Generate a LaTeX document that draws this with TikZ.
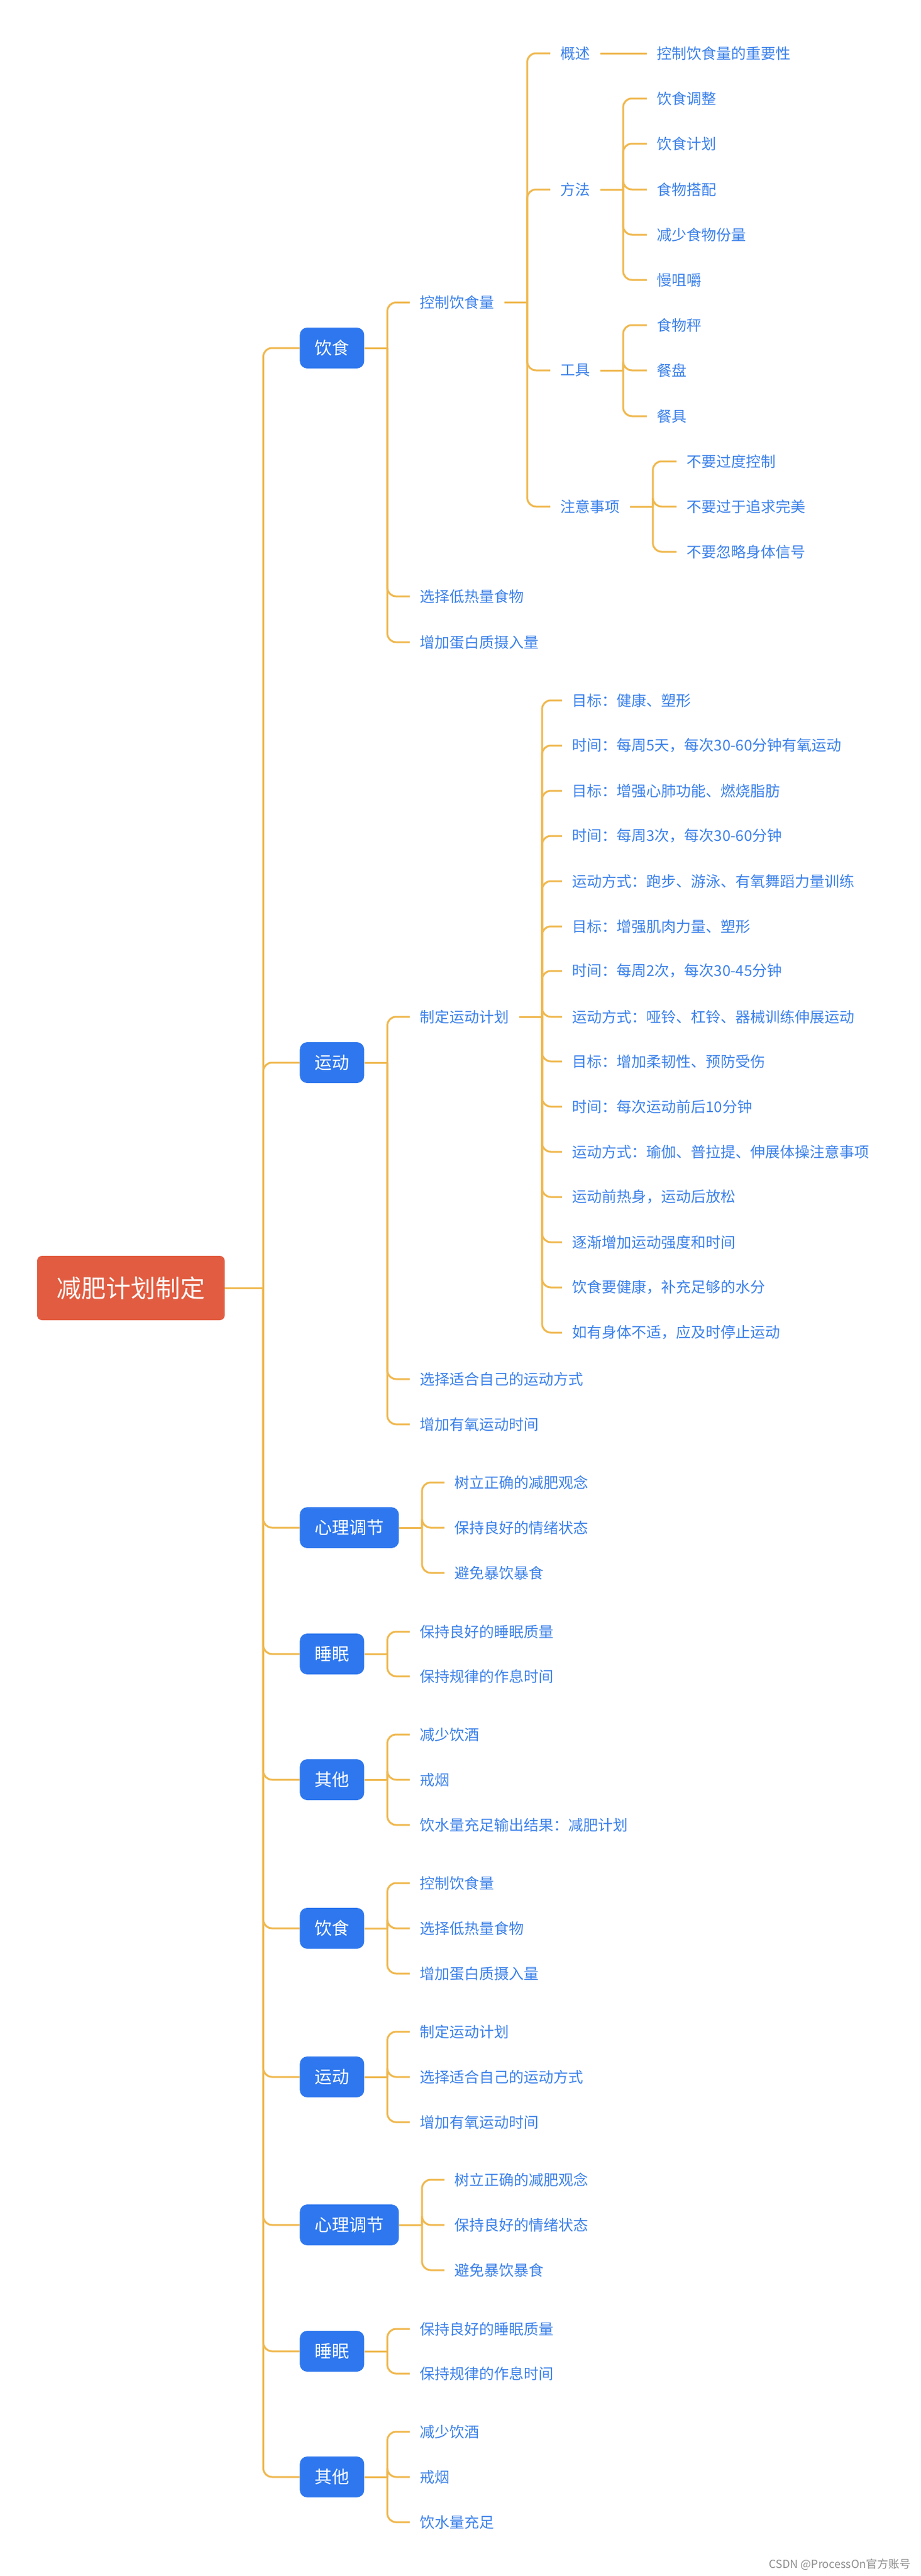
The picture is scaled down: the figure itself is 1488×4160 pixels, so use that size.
\documentclass[tikz,border=0pt]{standalone}
\usepackage{fontspec}
\setmainfont{Noto Sans CJK SC}
\usepackage{xcolor}
\usetikzlibrary{positioning,calc}

\definecolor{rootred}{HTML}{E15C40}
\definecolor{boxblue}{HTML}{2E77EE}
\definecolor{txtblue}{HTML}{3A80EA}
\definecolor{linkorange}{HTML}{EFB84F}

% stub from a parent, then one rounded elbow per child
\newcommand{\branch}[3][37]{%
	\draw[link] (#2.east) -- ++(#1,0) coordinate (#2-j);
	\foreach \c in {#3} {\draw[link] (#2-j) |- (\c.west);}
}

\begin{document}
\begin{tikzpicture}[x=0.5pt, y=-0.5pt,
				root/.style={
					fill=rootred, text=white!95!rootred,
					rounded corners=4pt, inner sep=0pt,
					minimum width=151.5pt, minimum height=52pt,
					font=\fontsize{20pt}{24pt}\selectfont,
				},
				topic/.style={
					fill=boxblue, text=white, anchor=west,
					rounded corners=6pt, inner xsep=12pt, inner ysep=0pt,
					minimum height=33pt,
					font=\fontsize{14pt}{17pt}\selectfont,
				},
				leaf/.style={
					text=txtblue, anchor=west,
					inner xsep=8pt, inner ysep=2pt,
					font=\fontsize{12pt}{14pt}\selectfont,
				},
				link/.style={
					draw=linkorange, line width=1.5pt, rounded corners=7pt,
				},
				wmark/.style={
					text=black!45, anchor=east, inner sep=0pt,
					font=\fontsize{9pt}{11pt}\selectfont,
				}
				]
				\useasboundingbox (0,0) rectangle (1488,4160);
				
				\node[root] (plan) at (211.5,2080) {减肥计划制定};
				
				% 饮食
				\node[topic] (t1) at (484,562) {饮食};
				\node[leaf] (t1a) at (662,488.5) {控制饮食量};
				\node[leaf] (t1b) at (662,963) {选择低热量食物};
				\node[leaf] (t1c) at (662,1037) {增加蛋白质摄入量};
				
				\node[leaf] (g1) at (889,86) {概述};
				\node[leaf] (g2) at (889,306) {方法};
				\node[leaf] (g3) at (889,598) {工具};
				\node[leaf] (g4) at (889,818) {注意事项};
				
				\node[leaf] (g1a) at (1045,86) {控制饮食量的重要性};
				\node[leaf] (g2a) at (1045,159) {饮食调整};
				\node[leaf] (g2b) at (1045,232) {饮食计划};
				\node[leaf] (g2c) at (1045,306) {食物搭配};
				\node[leaf] (g2d) at (1045,379) {减少食物份量};
				\node[leaf] (g2e) at (1045,452) {慢咀嚼};
				\node[leaf] (g3a) at (1045,525) {食物秤};
				\node[leaf] (g3b) at (1045,598) {餐盘};
				\node[leaf] (g3c) at (1045,672) {餐具};
				\node[leaf] (g4a) at (1093,745) {不要过度控制};
				\node[leaf] (g4b) at (1093,818) {不要过于追求完美};
				\node[leaf] (g4c) at (1093,891) {不要忽略身体信号};
				
				% 运动
				\node[topic] (t2) at (484,1716) {运动};
				\node[leaf] (t2a) at (662,1642) {制定运动计划};
				\node[leaf] (t2b) at (662,2227) {选择适合自己的运动方式};
				\node[leaf] (t2c) at (662,2300) {增加有氧运动时间};
				
				\node[leaf] (p1) at (908,1131) {目标：健康、塑形};
				\node[leaf] (p2) at (908,1204) {时间：每周5天，每次30-60分钟有氧运动};
				\node[leaf] (p3) at (908,1277) {目标：增强心肺功能、燃烧脂肪};
				\node[leaf] (p4) at (908,1350) {时间：每周3次，每次30-60分钟};
				\node[leaf] (p5) at (908,1423) {运动方式：跑步、游泳、有氧舞蹈力量训练};
				\node[leaf] (p6) at (908,1496) {目标：增强肌肉力量、塑形};
				\node[leaf] (p7) at (908,1568) {时间：每周2次，每次30-45分钟};
				\node[leaf] (p8) at (908,1642) {运动方式：哑铃、杠铃、器械训练伸展运动};
				\node[leaf] (p9) at (908,1714) {目标：增加柔韧性、预防受伤};
				\node[leaf] (p10) at (908,1787) {时间：每次运动前后10分钟};
				\node[leaf] (p11) at (908,1860) {运动方式：瑜伽、普拉提、伸展体操注意事项};
				\node[leaf] (p12) at (908,1933) {运动前热身，运动后放松};
				\node[leaf] (p13) at (908,2006) {逐渐增加运动强度和时间};
				\node[leaf] (p14) at (908,2079) {饮食要健康，补充足够的水分};
				\node[leaf] (p15) at (908,2152) {如有身体不适，应及时停止运动};
				
				% 心理调节
				\node[topic] (t3) at (484,2467) {心理调节};
				\node[leaf] (t3a) at (718,2394) {树立正确的减肥观念};
				\node[leaf] (t3b) at (718,2467) {保持良好的情绪状态};
				\node[leaf] (t3c) at (718,2540) {避免暴饮暴食};
				
				% 睡眠
				\node[topic] (t4) at (484,2671) {睡眠};
				\node[leaf] (t4a) at (662,2635) {保持良好的睡眠质量};
				\node[leaf] (t4b) at (662,2707) {保持规律的作息时间};
				
				% 其他
				\node[topic] (t5) at (484,2874) {其他};
				\node[leaf] (t5a) at (662,2801) {减少饮酒};
				\node[leaf] (t5b) at (662,2874) {戒烟};
				\node[leaf] (t5c) at (662,2947) {饮水量充足输出结果：减肥计划};
				
				% 饮食 (second)
				\node[topic] (t6) at (484,3114) {饮食};
				\node[leaf] (t6a) at (662,3041) {控制饮食量};
				\node[leaf] (t6b) at (662,3114) {选择低热量食物};
				\node[leaf] (t6c) at (662,3187) {增加蛋白质摄入量};
				
				% 运动 (second)
				\node[topic] (t7) at (484,3354) {运动};
				\node[leaf] (t7a) at (662,3281) {制定运动计划};
				\node[leaf] (t7b) at (662,3354) {选择适合自己的运动方式};
				\node[leaf] (t7c) at (662,3427) {增加有氧运动时间};
				
				% 心理调节 (second)
				\node[topic] (t8) at (484,3593) {心理调节};
				\node[leaf] (t8a) at (718,3520) {树立正确的减肥观念};
				\node[leaf] (t8b) at (718,3593) {保持良好的情绪状态};
				\node[leaf] (t8c) at (718,3666) {避免暴饮暴食};
				
				% 睡眠 (second)
				\node[topic] (t9) at (484,3797) {睡眠};
				\node[leaf] (t9a) at (662,3761) {保持良好的睡眠质量};
				\node[leaf] (t9b) at (662,3833) {保持规律的作息时间};
				
				% 其他 (second)
				\node[topic] (t10) at (484,4000) {其他};
				\node[leaf] (t10a) at (662,3927) {减少饮酒};
				\node[leaf] (t10b) at (662,4000) {戒烟};
				\node[leaf] (t10c) at (662,4073) {饮水量充足};
				
				\node[wmark] (wm) at (1472,4141) {CSDN @ProcessOn官方账号};
				
				% connectors
				\branch[62]{plan}{t1,t2,t3,t4,t5,t6,t7,t8,t9,t10}
				\branch{t1}{t1a,t1b,t1c}
				\branch{t1a}{g1,g2,g3,g4}
				\draw[link] (g1.east) -- (g1a.west);
				\branch{g2}{g2a,g2b,g2c,g2d,g2e}
				\branch{g3}{g3a,g3b,g3c}
				\branch{g4}{g4a,g4b,g4c}
				\branch{t2}{t2a,t2b,t2c}
				\branch{t2a}{p1,p2,p3,p4,p5,p6,p7,p8,p9,p10,p11,p12,p13,p14,p15}
				\branch{t3}{t3a,t3b,t3c}
				\branch{t4}{t4a,t4b}
				\branch{t5}{t5a,t5b,t5c}
				\branch{t6}{t6a,t6b,t6c}
				\branch{t7}{t7a,t7b,t7c}
				\branch{t8}{t8a,t8b,t8c}
				\branch{t9}{t9a,t9b}
				\branch{t10}{t10a,t10b,t10c}
			\end{tikzpicture}
\end{document}
